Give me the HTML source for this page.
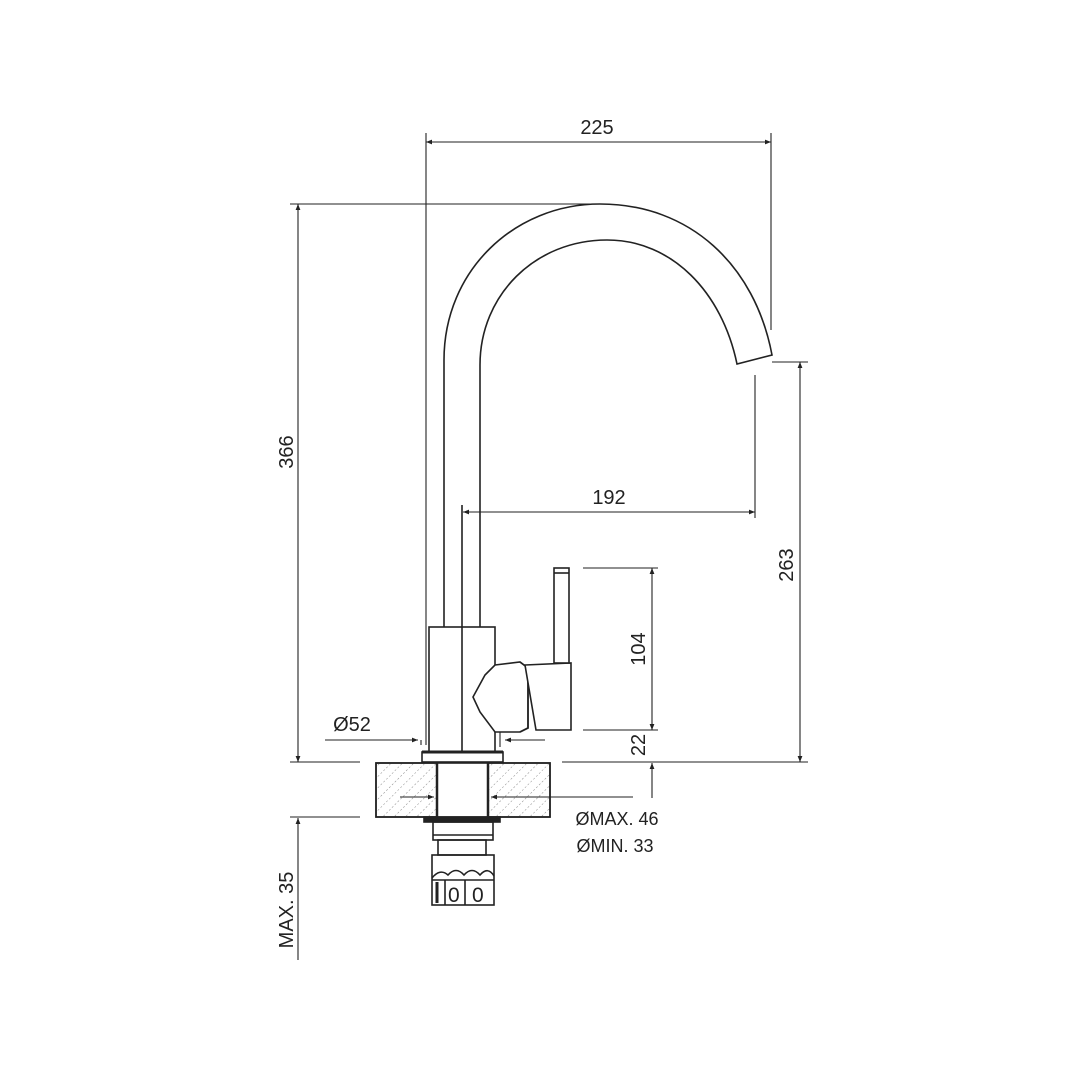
<!DOCTYPE html>
<html><head><style>body{margin:0;background:#fff}svg{display:block}text{font-family:"Liberation Sans",sans-serif;fill:#222}</style></head><body>
<svg width="1080" height="1080" viewBox="0 0 1080 1080" xmlns="http://www.w3.org/2000/svg">
<defs>
<pattern id="h" width="8" height="8" patternUnits="userSpaceOnUse" patternTransform="rotate(45)">
<line x1="0" y1="0" x2="0" y2="8" stroke="#888" stroke-width="1" stroke-dasharray="2,2"/>
</pattern>
<marker id="a" viewBox="0 0 10 10" refX="10" refY="5" markerWidth="10" markerHeight="6" orient="auto-start-reverse" markerUnits="userSpaceOnUse"><path d="M0,1 L10,5 L0,9 Z" fill="#222"/></marker>
</defs>
<g fill="none" stroke="#222" stroke-width="1.6">
<!-- spout -->
<path d="M444,627 V360 C444,270 515,204 600,204 C690,204 755,265 772,355 L737,364 C722,292 672,240 607,240 C535,240 480,295 480,365 V627"/>
<line x1="462" y1="505" x2="462" y2="752"/>
<!-- body -->
<rect x="429" y="627" width="66" height="125" fill="#fff"/>
<line x1="462" y1="627" x2="462" y2="752"/>
<!-- connector & handle -->
<path d="M495,665 L520,662 L528,668 L528,728 L520,732 L495,732 L480,712 L473,697 L485,675 Z" fill="#fff"/>
<path d="M520,662 L528,668 L528,728 L520,732"/>
<path d="M525,665 L571,663 L571,730 L536,730 L525,665 Z" fill="#fff"/>
<rect x="554" y="568" width="15" height="95" fill="#fff"/>
<line x1="554" y1="573" x2="569" y2="573"/>
<!-- base ring -->
<rect x="422" y="752" width="81" height="10" fill="#fff"/>
<line x1="422" y1="752" x2="503" y2="752" stroke-width="3"/>
<!-- deck -->
<rect x="376" y="763" width="174" height="54" fill="url(#h)"/>
<rect x="437" y="763" width="51" height="54" fill="#fff" stroke="none"/>
<rect x="376" y="763" width="174" height="54"/>
<line x1="437" y1="763" x2="437" y2="817" stroke-width="2.5"/>
<line x1="488" y1="763" x2="488" y2="817" stroke-width="2.5"/>
<!-- below -->
<rect x="424" y="817" width="76" height="5" fill="#222"/>
<rect x="433" y="822" width="60" height="18"/>
<line x1="433" y1="835" x2="493" y2="835"/>
<rect x="438" y="840" width="48" height="15"/>
<rect x="432" y="855" width="62" height="50"/>
<path d="M432,878 Q440,868 448,875 Q456,866 464,875 Q472,866 480,875 Q488,866 494,876"/>
<line x1="432" y1="880" x2="494" y2="880"/>
<line x1="445" y1="880" x2="445" y2="905"/>
<line x1="465" y1="880" x2="465" y2="905"/>
<line x1="437" y1="882" x2="437" y2="903" stroke-width="3"/>
</g>
<text x="448" y="902" font-size="21">0</text>
<text x="472" y="902" font-size="21">0</text>
<g fill="none" stroke="#222" stroke-width="1.1">
<line x1="426" y1="133" x2="426" y2="745"/>
<line x1="421" y1="740" x2="421" y2="745"/>
<line x1="771" y1="133" x2="771" y2="330"/>
<line x1="426" y1="142" x2="771" y2="142" marker-start="url(#a)" marker-end="url(#a)"/>
<line x1="290" y1="204" x2="600" y2="204"/>
<line x1="290" y1="762" x2="360" y2="762"/>
<line x1="298" y1="204" x2="298" y2="762" marker-start="url(#a)" marker-end="url(#a)"/>
<line x1="772" y1="362" x2="808" y2="362"/>
<line x1="562" y1="762" x2="808" y2="762"/>
<line x1="800" y1="362" x2="800" y2="762" marker-start="url(#a)" marker-end="url(#a)"/>
<line x1="755" y1="375" x2="755" y2="518"/>
<line x1="463" y1="512" x2="755" y2="512" marker-start="url(#a)" marker-end="url(#a)"/>
<line x1="583" y1="568" x2="658" y2="568"/>
<line x1="583" y1="730" x2="658" y2="730"/>
<line x1="652" y1="568" x2="652" y2="730" marker-start="url(#a)" marker-end="url(#a)"/>
<line x1="652" y1="798" x2="652" y2="763" marker-end="url(#a)"/>
<line x1="325" y1="740" x2="418" y2="740" marker-end="url(#a)"/>
<line x1="545" y1="740" x2="505" y2="740" marker-end="url(#a)"/>
<line x1="500" y1="732" x2="500" y2="747"/>
<line x1="400" y1="797" x2="434" y2="797" marker-end="url(#a)"/>
<line x1="633" y1="797" x2="491" y2="797" marker-end="url(#a)"/>
<line x1="290" y1="817" x2="360" y2="817"/>
<line x1="298" y1="960" x2="298" y2="818" marker-end="url(#a)"/>
</g>
<g font-size="20">
<text x="597" y="134" text-anchor="middle">225</text>
<text x="609" y="504" text-anchor="middle">192</text>
<text x="352" y="731" text-anchor="middle">Ø52</text>
<text x="617" y="825" text-anchor="middle" font-size="18">ØMAX. 46</text>
<text x="615" y="852" text-anchor="middle" font-size="18">ØMIN. 33</text>
<text transform="translate(293,452) rotate(-90)" text-anchor="middle">366</text>
<text transform="translate(793,565) rotate(-90)" text-anchor="middle">263</text>
<text transform="translate(645,649) rotate(-90)" text-anchor="middle">104</text>
<text transform="translate(645,745) rotate(-90)" text-anchor="middle">22</text>
<text transform="translate(293,910) rotate(-90)" text-anchor="middle">MAX. 35</text>
</g>
</svg>
</body></html>
